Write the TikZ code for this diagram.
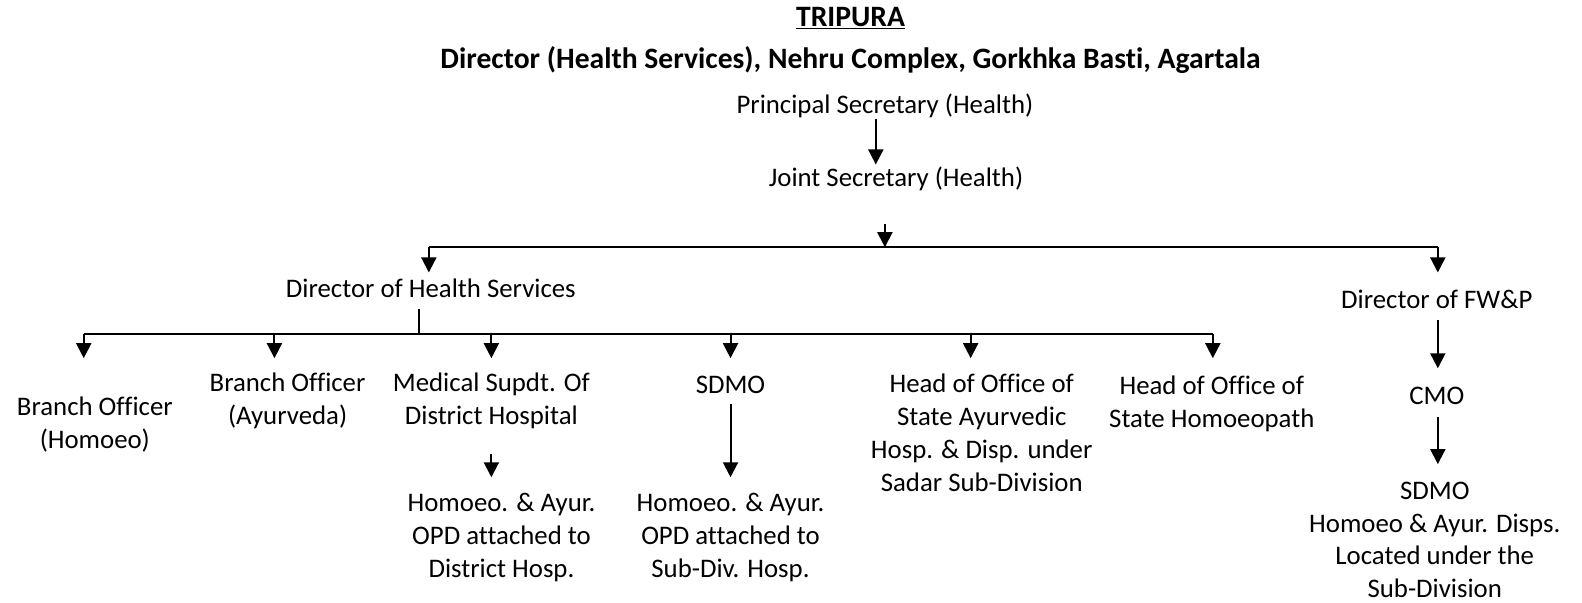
\documentclass[tikz,border=0pt]{standalone}
\usepackage{fontspec}
\setmainfont{Carlito}[Ligatures={NoCommon}]
\usetikzlibrary{arrows.meta}
\begin{document}
\begin{tikzpicture}[x=1.009pt,y=-1.009pt,
  every node/.style={font=\fontsize{26.8}{32.8}\selectfont, inner sep=0pt, align=center},
  title/.style={font=\fontsize{29.6}{35}\selectfont\bfseries},
  ln/.style={line width=2pt},
  arr/.style={line width=2pt,-{Triangle[length=15pt,width=15pt]}}]
\useasboundingbox (0,0) rectangle (1567.9,597.6);

% texts
\node[title] (t1) at (843,18) {\underline{TRIPURA}};
\node[title] (t2) at (843,59) {Director (Health Services), Nehru Complex, Gorkhka Basti, Agartala};
\node (ps) at (877,105) {Principal Secretary (Health)};
\node (js) at (888,177) {Joint Secretary (Health)};
\node (dhs) at (427,286) {Director of Health Services};
\node (fwp) at (1424,297) {Director of FW\&P};
\node (boh) at (94,421) {Branch Officer\\(Homoeo)};
\node (boa) at (285,397) {Branch Officer\\(Ayurveda)};
\node (msd) at (487,397) {Medical Supdt. Of\\District Hospital};
\node (sdmo) at (724,381) {SDMO};
\node (hoa) at (973,429) {Head of Office of\\State Ayurvedic\\Hosp. \& Disp. under\\Sadar Sub-Division};
\node (hoh) at (1201,400) {Head of Office of\\State Homoeopath};
\node (opda) at (497,533) {Homoeo. \& Ayur.\\OPD attached to\\District Hosp.};
\node (opdb) at (724,533) {Homoeo. \& Ayur.\\OPD attached to\\Sub-Div. Hosp.};
\node (cmo) at (1424,392) {CMO};
\node (sdmob) at (1422,535) {SDMO\\Homoeo \& Ayur. Disps.\\Located under the\\Sub-Division};

% junction coordinates
\coordinate (cps) at (868,118);
\coordinate (cjs) at (868,163);
\coordinate (j1) at (877,222);
\coordinate (j2) at (877,245);
\coordinate (h1) at (425,245);
\coordinate (h2) at (1425,245);
\coordinate (hd) at (425,270);
\coordinate (hf) at (1425,270);
\coordinate (d1) at (415,306);
\coordinate (d2) at (415,331);
\coordinate (b1) at (83,331);
\coordinate (b6) at (1202,331);
\coordinate (m1) at (487,450);
\coordinate (m2) at (487,473);
\coordinate (s1) at (724,400);
\coordinate (s2) at (724,473);
\coordinate (f1) at (1425,317);
\coordinate (f2) at (1425,365);
\coordinate (c1) at (1425,413);
\coordinate (c2) at (1425,460);

% connectors
\draw[arr] (cps) -- (cjs);
\draw[arr] (j1) -- (j2);
\draw[ln] (h1) -- (h2);
\draw[arr] (h1) -- (hd);
\draw[arr] (h2) -- (hf);
\draw[ln] (d1) -- (d2);
\draw[ln] (b1) -- (b6);
\foreach \x in {83,272,487,724,962,1202}{
  \draw[arr] (\x,331) -- (\x,355);
}
\draw[arr] (m1) -- (m2);
\draw[arr] (s1) -- (s2);
\draw[arr] (f1) -- (f2);
\draw[arr] (c1) -- (c2);
\end{tikzpicture}
\end{document}
